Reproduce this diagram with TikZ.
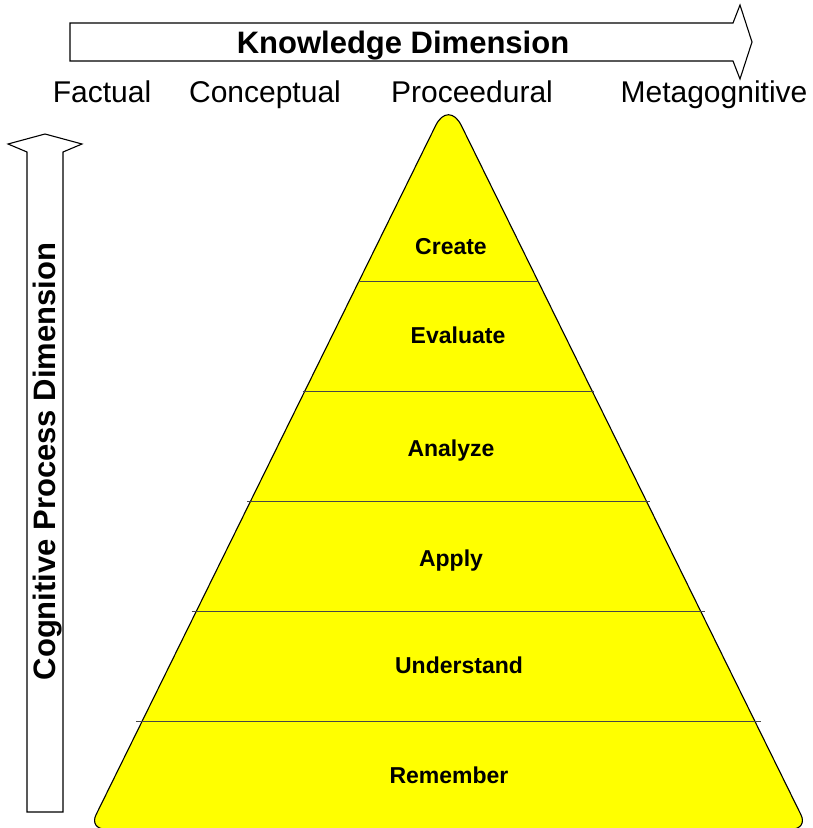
\documentclass[tikz,border=0pt]{standalone}
\usepackage{fontspec}
\setmainfont{Liberation Sans}
\definecolor{pyramidyellow}{RGB}{255,255,0}
\definecolor{bandline}{RGB}{70,70,70}

\begin{document}
\begin{tikzpicture}[x=1pt, y=-1pt,
dimtext/.style={font=\fontsize{31}{36}\selectfont\bfseries, anchor=base, inner sep=0pt},
kindtext/.style={font=\fontsize{30}{36}\selectfont, anchor=base, inner sep=0pt},
levelnode/.style={font=\fontsize{23}{28}\selectfont\bfseries, anchor=base, inner sep=0pt},
blockarrow/.style={draw=black, fill=white, line width=1.1pt, line join=miter},
]
\useasboundingbox (0,0) rectangle (813,828);

%Arrows
\draw[blockarrow] (70,23) -- (733,23) -- (740,5) -- (752,42) -- (740,79) -- (733,61) -- (70,61) -- cycle;
\draw[blockarrow] (27,812) -- (27,152) -- (8,144) -- (45,134) -- (82,144) -- (63,152) -- (63,812) -- cycle;

%Pyramid
\coordinate (apex) at (448.5,99.5);
\coordinate (leftfoot) at (89,829);
\coordinate (rightfoot) at (808,829);
\coordinate (basemid) at (448.5,829);
\coordinate (rightmid) at (628.25,464.25);
\coordinate (leftmid) at (268.75,464.25);
\draw[fill=pyramidyellow, line width=1.1pt]
  (basemid) [rounded corners=16pt] -- (rightfoot) -- (rightmid)
  [rounded corners=29pt] -- (apex) -- (leftmid)
  [rounded corners=16pt] -- (leftfoot) -- cycle;
\foreach \y in {281,391,501,611,721}
  \draw[bandline, line width=0.8pt] ({448.5-((\y-99.5)*0.493+1+(\y-281)*0.011)},\y) -- ({448.5+((\y-99.5)*0.493+1+(\y-281)*0.011)},\y);

%Nodes
\node[dimtext]   (knowledge)  at (403,53)  {Knowledge Dimension};
\node[dimtext, rotate=90] (cognitive) at (55,461.5) {Cognitive Process Dimension};

\node[kindtext]  (factual)    at (102,102) {Factual};
\node[kindtext]  (conceptual) at (265,102) {Conceptual};
\node[kindtext]  (procedural) at (472,102) {Proceedural};
\node[kindtext]  (meta)       at (714,102) {Metagognitive};

\node[levelnode] (create)     at (451,254) {Create};
\node[levelnode] (evaluate)   at (458,343) {Evaluate};
\node[levelnode] (analyze)    at (451,456) {Analyze};
\node[levelnode] (apply)      at (451,566) {Apply};
\node[levelnode] (understand) at (459,673) {Understand};
\node[levelnode] (remember)   at (449,783) {Remember};
\end{tikzpicture}
\end{document}
